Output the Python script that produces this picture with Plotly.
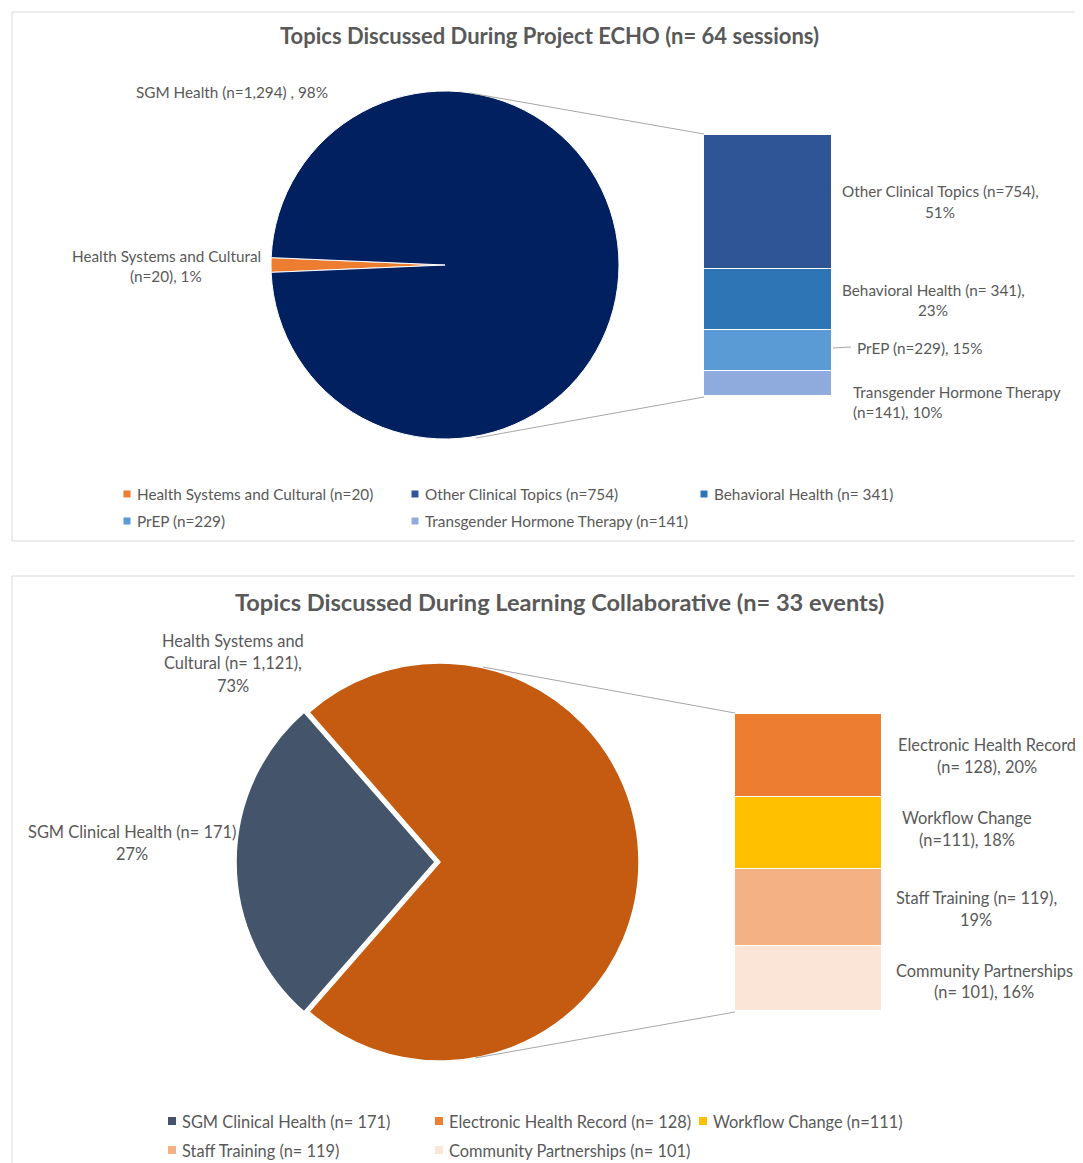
import plotly.graph_objects as go

# page has an 8px body margin: the figure is sized/offset to fit the 1083x1163 window
OFF = 8
W, H = 1083 - OFF, 1163 - OFF

# ---------------- data ----------------
echo_title = "Topics Discussed During Project ECHO (n= 64 sessions)"
echo_pie_labels = ["Health Systems and Cultural", "SGM Health"]
echo_pie_small = [20]
echo_bar_labels = ["Other Clinical Topics", "Behavioral Health", "PrEP", "Transgender Hormone Therapy"]
echo_bar_values = [754, 341, 229, 141]
echo_bar_pct = ["51%", "23%", "15%", "10%"]

lc_title = "Topics Discussed During Learning Collaborative (n= 33 events)"
lc_pie_labels = ["SGM Clinical Health", "Health Systems and Cultural"]
lc_pie_small = [171]
lc_bar_labels = ["Electronic Health Record", "Workflow Change", "Staff Training", "Community Partnerships"]
lc_bar_values = [128, 111, 119, 101]
lc_bar_pct = ["20%", "18%", "19%", "16%"]

echo_legend = ["Health Systems and Cultural (n=20)", "Other Clinical Topics (n=754)",
               "Behavioral Health (n= 341)", "PrEP (n=229)", "Transgender Hormone Therapy (n=141)"]
lc_legend = ["SGM Clinical Health (n= 171)", "Electronic Health Record (n= 128)",
             "Workflow Change (n=111)", "Staff Training (n= 119)", "Community Partnerships (n= 101)"]

# ---------------- styles ----------------
FONT = "Lato"
TXT = "#595959"
FS1 = 15.3
FS2 = 16.4
echo_pie_colors = ["#ED7D31", "#002060"]
echo_bar_colors = ["#2F5597", "#2E75B6", "#5B9BD5", "#8FAADC"]
lc_pie_colors = ["#44546A", "#C55A11"]
lc_bar_colors = ["#ED7D31", "#FFC000", "#F4B183", "#FBE5D6"]
echo_legend_colors = ["#ED7D31", "#2F5597", "#2E75B6", "#5B9BD5", "#8FAADC"]
lc_legend_colors = ["#44546A", "#ED7D31", "#FFC000", "#F4B183", "#FBE5D6"]


def px(x):
    return (x - OFF) / W


def py(y):
    return 1 - (y - OFF) / H


fig = go.Figure()

# ---------------- pie 1 ----------------
v1 = echo_pie_small + [sum(echo_bar_values)]
small_frac1 = v1[0] / sum(v1) * 360
fig.add_trace(go.Pie(
    labels=echo_pie_labels, values=v1, sort=False, direction="clockwise",
    rotation=270 - small_frac1 / 2, textinfo="none", showlegend=False,
    marker=dict(colors=echo_pie_colors, line=dict(color="white", width=1)),
    domain=dict(x=[px(271), px(619)], y=[py(439), py(91)]),
))

# ---------------- pie 2 ----------------
v2 = lc_pie_small + [sum(lc_bar_values)]
small_frac2 = v2[0] / sum(v2) * 360
pull = 0.025
r2 = 199
D2 = 2 * r2 * (1 + pull)
cx2, cy2 = 440, 862
fig.add_trace(go.Pie(
    labels=lc_pie_labels, values=v2, sort=False, direction="clockwise",
    rotation=270 - small_frac2 / 2, textinfo="none", showlegend=False,
    pull=[pull, 0],
    marker=dict(colors=lc_pie_colors, line=dict(color="white", width=1.5)),
    domain=dict(x=[px(cx2 - D2 / 2), px(cx2 + D2 / 2)], y=[py(cy2 + D2 / 2), py(cy2 - D2 / 2)]),
))

# ---------------- bars ----------------
for lab, val, col in zip(echo_bar_labels, echo_bar_values, echo_bar_colors):
    fig.add_trace(go.Bar(x=[0], y=[val], name=lab, width=1, marker=dict(color=col, line=dict(color="white", width=1.5)),
                         xaxis="x", yaxis="y", showlegend=False))
for lab, val, col in zip(lc_bar_labels, lc_bar_values, lc_bar_colors):
    fig.add_trace(go.Bar(x=[0], y=[val], name=lab, width=1, marker=dict(color=col, line=dict(color="white", width=1.5)),
                         xaxis="x2", yaxis="y2", showlegend=False))

hidden = dict(visible=False, showgrid=False, zeroline=False, fixedrange=True)
fig.update_layout(
    width=W, height=H, margin=dict(l=0, r=0, t=0, b=0),
    paper_bgcolor="white", plot_bgcolor="rgba(0,0,0,0)",
    barmode="stack", bargap=0,
    xaxis=dict(domain=[px(704), px(832)], range=[-0.5, 0.5], anchor="y", **hidden),
    yaxis=dict(domain=[py(396), py(135)], range=[sum(echo_bar_values), 0], anchor="x", **hidden),
    xaxis2=dict(domain=[px(735), px(882)], range=[-0.5, 0.5], anchor="y2", **hidden),
    yaxis2=dict(domain=[py(1011), py(714)], range=[sum(lc_bar_values), 0], anchor="x2", **hidden),
    font=dict(family=FONT, color=TXT),
)

shapes = []
annotations = []

# panel borders
for (x0, y0, x1, y1) in [(12, 12, 1095, 541), (12, 576, 1095, 1180)]:
    shapes.append(dict(type="rect", xref="paper", yref="paper", x0=px(x0), x1=px(x1), y0=py(y1), y1=py(y0),
                       line=dict(color="#D9D9D9", width=1), fillcolor="rgba(0,0,0,0)", layer="below"))

# connector lines
for (x0, y0, x1, y1) in [(470, 93, 704, 134), (476, 438, 704, 397),
                         (483, 667, 735, 713), (475, 1058, 735, 1012),
                         (833, 348, 851, 347)]:
    shapes.append(dict(type="line", xref="paper", yref="paper", x0=px(x0), x1=px(x1), y0=py(y0), y1=py(y1),
                       line=dict(color="#A6A6A6", width=1)))


def text(t, x, y, size, anchor="center", color=TXT, bold=False):
    annotations.append(dict(text=("<b>%s</b>" % t) if bold else t, x=px(x), y=py(y), xref="paper", yref="paper",
                            xanchor=anchor, yanchor="middle", showarrow=False,
                            font=dict(family=FONT, size=size, color=color)))


def label(lines, x, y0, size, anchor="center", dy=21):
    for i, ln in enumerate(lines):
        text(ln, x, y0 + i * dy, size, anchor=anchor)


# titles
text(echo_title, 549, 35, 22, bold=True)
text(lc_title, 559, 602, 23.6, bold=True)

# pie 1 labels
label(["SGM Health (n=1,294) , 98%"], 232, 92, FS1)
label(["Health Systems and Cultural", "(n=20), 1%"], 166, 256, FS1, dy=20)

# bar 1 labels
label(["Other Clinical Topics (n=754),", echo_bar_pct[0]], 940, 191, FS1)
label(["Behavioral Health (n= 341),", echo_bar_pct[1]], 933, 290, FS1, dy=20)
label(["PrEP (n=229), " + echo_bar_pct[2]], 855, 348, FS1, anchor="left")
label(["Transgender Hormone Therapy", "(n=141), " + echo_bar_pct[3]], 851, 392, FS1, anchor="left", dy=20)

# pie 2 labels
label(["Health Systems and", "Cultural (n= 1,121),", "73%"], 233, 640, FS2, dy=22.5)
label(["SGM Clinical Health (n= 171)", "27%"], 132, 831, FS2, dy=22)

# bar 2 labels
label(["Electronic Health Record", "(n= 128), " + lc_bar_pct[0]], 987, 744, FS2, dy=22)
label(["Workflow Change", "(n=111), " + lc_bar_pct[1]], 967, 817, FS2, dy=22)
label(["Staff Training (n= 119),", lc_bar_pct[2]], 976, 897, FS2, dy=22)
label(["Community Partnerships", "(n= 101), " + lc_bar_pct[3]], 984, 970, FS2, dy=21)


# legends
def legend_item(t, col, x, y, size, sq, gap):
    h = sq / 2
    shapes.append(dict(type="rect", xref="paper", yref="paper", x0=px(x - h), x1=px(x + h),
                       y0=py(y + h), y1=py(y - h), fillcolor=col, line=dict(width=0)))
    text(t, x + gap, y, size, anchor="left")


echo_pos = [(127, 494), (415, 494), (704, 494), (127, 521), (415, 521)]
for t, c, (x, y) in zip(echo_legend, echo_legend_colors, echo_pos):
    legend_item(t, c, x, y, FS1, 7, 8)
lc_pos = [(172, 1121), (439, 1121), (703, 1121), (172, 1150), (439, 1150)]
for t, c, (x, y) in zip(lc_legend, lc_legend_colors, lc_pos):
    legend_item(t, c, x, y, FS2, 8, 8)

fig.update_layout(shapes=shapes, annotations=annotations)
fig.write_html("out.html")
